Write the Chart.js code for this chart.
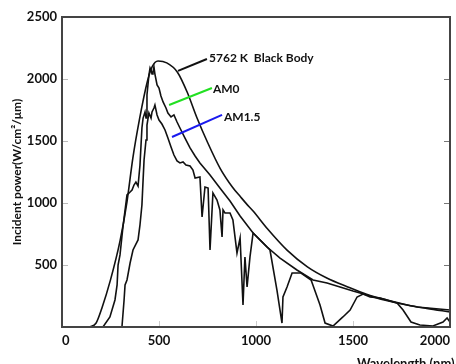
<!DOCTYPE html>
<html>
<head>
<meta charset="utf-8">
<script src="https://cdn.jsdelivr.net/npm/chart.js@4"></script>
<style>
  html, body { margin: 0; padding: 0; background: #fff; }
  #chart { display: block; }
</style>
</head>
<body>
<canvas id="chart" width="456" height="364"></canvas>
<script>
// Data (nm, W/cm²/µm)
const bbWavelength = [140, 175, 205, 250, 300, 335, 365, 400, 440, 465, 495, 540, 595, 645, 695, 750, 815, 880, 920, 950, 985, 1060, 1160, 1265, 1365, 1470, 1570, 1675, 1780, 1880, 2000];
const bbPower = [0, 30, 150, 380, 700, 1010, 1360, 1680, 1980, 2100, 2145, 2130, 2055, 1895, 1690, 1490, 1280, 1125, 1050, 995, 935, 790, 620, 485, 395, 325, 265, 218, 178, 150, 121];

const am0Wavelength = [211, 247, 273, 284, 289, 299, 314, 335, 351, 361, 371, 381, 392, 402, 412, 418, 428, 433, 438, 448, 454, 459, 464, 469, 474, 479, 490, 500, 510, 521, 536, 546, 562, 577, 593, 608, 634, 660, 686, 711, 763, 814, 866, 918, 985, 1057, 1124, 1211, 1294, 1366, 1433, 1500, 1572, 1639, 1727, 1830, 2000];
const am0Power = [0, 81, 218, 339, 500, 581, 806, 1065, 1089, 1105, 1145, 1169, 1137, 1306, 1605, 1685, 1734, 1685, 1871, 2032, 2089, 2073, 2040, 2056, 2097, 2040, 1952, 1927, 1863, 1815, 1766, 1726, 1694, 1710, 1653, 1605, 1524, 1444, 1379, 1323, 1226, 1121, 1016, 895, 758, 645, 556, 460, 379, 355, 323, 290, 258, 226, 194, 161, 137];

const am15Wavelength = [309, 320, 325, 335, 351, 366, 381, 392, 402, 412, 418, 423, 433, 438, 448, 459, 464, 474, 479, 490, 500, 515, 531, 546, 562, 577, 593, 608, 624, 639, 660, 675, 686, 711, 722, 737, 753, 763, 778, 799, 814, 825, 830, 840, 866, 881, 902, 918, 933, 943, 954, 969, 985, 1072, 1108, 1134, 1139, 1160, 1186, 1232, 1284, 1330, 1356, 1397, 1448, 1485, 1521, 1552, 1588, 1639, 1727, 1758, 1799, 1845, 1912, 1964, 1985, 2000];
const am15Power = [0, 218, 339, 379, 516, 621, 669, 702, 823, 984, 1185, 1347, 1508, 1629, 1726, 1685, 1734, 1766, 1790, 1710, 1669, 1637, 1589, 1524, 1452, 1387, 1339, 1323, 1331, 1306, 1298, 1266, 1202, 1210, 887, 1129, 1121, 621, 1081, 1024, 944, 726, 944, 919, 919, 863, 597, 718, 177, 565, 323, 565, 758, 621, 298, 32, 242, 323, 435, 435, 379, 177, 32, 8, 81, 137, 242, 266, 242, 234, 194, 137, 40, 16, 8, 40, 73, 40];

const xTicks = [0, 500, 1000, 1500, 2000];
const yTicks = [0, 500, 1000, 1500, 2000, 2500];

// Labels with leader lines (data coordinates)
const labels = [
    { text: '5762 K  Black Body', x: 758, y: 2169, from: [598, 2065], to: [747, 2161], color: '#111' },
    { text: 'AM0', x: 778, y: 1919, from: [552, 1790], to: [773, 1927], color: '#22e022' },
    { text: 'AM1.5', x: 835, y: 1694, from: [567, 1532], to: [825, 1710], color: '#1a1aee' }
];

const FONT = 'Lato, "Open Sans", sans-serif';

function toPoints(xs, ys) {
    return xs.map((x, i) => ({ x: x, y: ys[i] }));
}

function lineSet(name, xs, ys, smooth) {
    return {
        label: name,
        data: toPoints(xs, ys),
        showLine: true,
        borderColor: '#111',
        borderWidth: 1.6,
        pointRadius: 0,
        tension: 0,
        cubicInterpolationMode: smooth ? 'monotone' : 'default'
    };
}

// Frame with inward tick marks
const framePlugin = {
    id: 'frame',
    afterDraw(chart) {
        const { ctx, chartArea: a, scales } = chart;
        ctx.save();
        ctx.lineWidth = 1;
        yTicks.slice(1, -1).forEach(v => {
            const py = Math.round(scales.y.getPixelForValue(v)) + 0.5;
            ctx.strokeStyle = '#bbb';
            ctx.beginPath(); ctx.moveTo(a.left, py); ctx.lineTo(a.left + 6, py); ctx.stroke();
            ctx.strokeStyle = '#777';
            ctx.beginPath(); ctx.moveTo(a.right, py); ctx.lineTo(a.right - 6, py); ctx.stroke();
        });
        xTicks.slice(1, -1).forEach(v => {
            const px = Math.round(scales.x.getPixelForValue(v)) + 0.5;
            ctx.strokeStyle = '#ccc';
            ctx.beginPath(); ctx.moveTo(px, a.bottom); ctx.lineTo(px, a.bottom - 6); ctx.stroke();
        });
        ctx.strokeStyle = '#444';
        ctx.lineWidth = 2;
        ctx.strokeRect(a.left, a.top, a.right - a.left, a.bottom - a.top);

        // x axis title, sits low and runs off the canvas edge like the original
        ctx.fillStyle = '#111';
        ctx.font = 'bold 13px ' + FONT;
        ctx.textAlign = 'left';
        ctx.textBaseline = 'alphabetic';
        ctx.fillText('Wavelength (nm)', 357, 368);
        ctx.restore();
    }
};

const labelPlugin = {
    id: 'curveLabels',
    afterDatasetsDraw(chart) {
        const { ctx, scales } = chart;
        ctx.save();
        ctx.font = 'bold 12px ' + FONT;
        ctx.textAlign = 'left';
        ctx.textBaseline = 'middle';
        labels.forEach(l => {
            ctx.strokeStyle = l.color;
            ctx.lineWidth = 2;
            ctx.beginPath();
            ctx.moveTo(scales.x.getPixelForValue(l.from[0]), scales.y.getPixelForValue(l.from[1]));
            ctx.lineTo(scales.x.getPixelForValue(l.to[0]), scales.y.getPixelForValue(l.to[1]));
            ctx.stroke();
            ctx.fillStyle = '#111';
            ctx.fillText(l.text, scales.x.getPixelForValue(l.x), scales.y.getPixelForValue(l.y));
        });
        ctx.restore();
    }
};

new Chart(document.getElementById('chart'), {
    type: 'scatter',
    data: {
        datasets: [
            lineSet('5762 K Black Body', bbWavelength, bbPower, true),
            lineSet('AM0', am0Wavelength, am0Power, false),
            lineSet('AM1.5', am15Wavelength, am15Power, false)
        ]
    },
    options: {
        responsive: false,
        animation: false,
        devicePixelRatio: 1,
        layout: { padding: { top: 17, right: 6, left: 0, bottom: 0 } },
        plugins: {
            legend: { display: false },
            tooltip: { enabled: false }
        },
        scales: {
            x: {
                type: 'linear',
                min: 0,
                max: 2000,
                grid: { display: false, drawTicks: false },
                border: { display: false },
                afterBuildTicks: s => { s.ticks = xTicks.map(v => ({ value: v })); },
                ticks: {
                    align: 'inner',
                    padding: 6,
                    color: '#111',
                    font: { family: FONT, size: 13, weight: 'bold' },
                    callback: v => String(v)
                },
                afterFit: s => { s.height = 37; s.paddingLeft = 0; s.paddingRight = 0; }
            },
            y: {
                min: 0,
                max: 2500,
                grid: { display: false, drawTicks: false },
                border: { display: false },
                afterBuildTicks: s => { s.ticks = yTicks.map(v => ({ value: v })); },
                ticks: {
                    padding: 5,
                    color: '#111',
                    font: { family: FONT, size: 13, weight: 'bold' },
                    callback: v => v === 0 ? '' : String(v)
                },
                title: {
                    display: true,
                    text: 'Incident power(W/cm²/μm)',
                    color: '#111',
                    font: { family: FONT, size: 12, weight: 'bold' },
                    padding: { top: 10, bottom: 0 }
                },
                afterFit: s => { s.width = 62; }
            }
        }
    },
    plugins: [framePlugin, labelPlugin]
});
</script>
</body>
</html>
